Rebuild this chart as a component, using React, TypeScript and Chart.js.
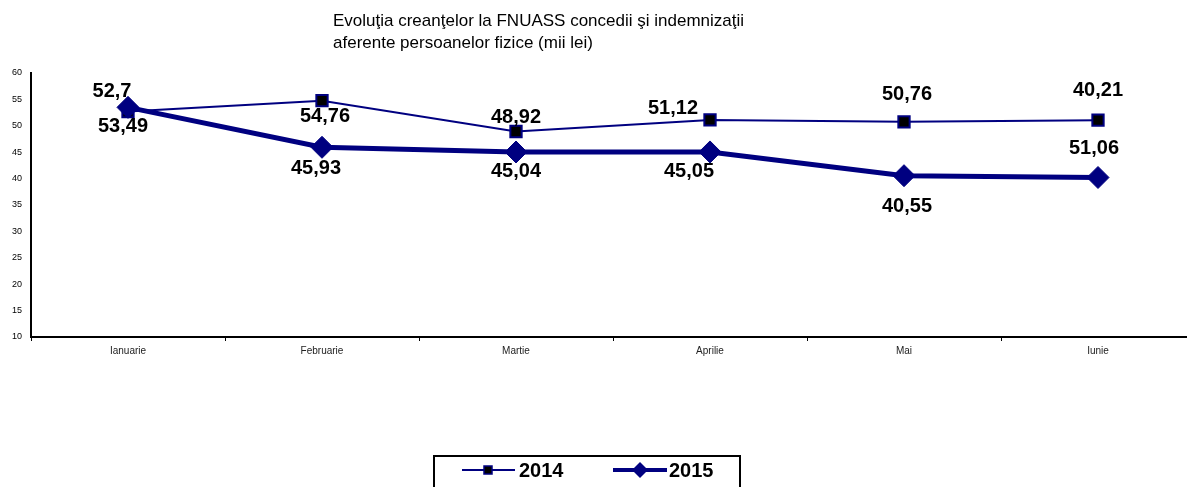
import { useEffect, useRef } from 'react';
import { Chart, registerables } from 'chart.js';

Chart.register(...registerables);

const categories = ['Ianuarie', 'Februarie', 'Martie', 'Aprilie', 'Mai', 'Iunie'];
const values2014 = [52.7, 54.76, 48.92, 51.12, 50.76, 51.06];
const values2015 = [53.49, 45.93, 45.04, 45.05, 40.55, 40.21];
const seriesLabels = ['2014', '2015'];
const yMin = 10;
const yMax = 60;
const yStep = 5;
const titleLines = [
  'Evoluţia creanţelor la FNUASS concedii şi indemnizaţii',
  'aferente persoanelor fizice (mii lei)',
];

// placement of each value label, in px relative to its point (as in the original)
const labelOffsets2014 = [[-16, -20], [3, 16], [0, -14], [-37, -11], [3, -27], [-4, 28]];
const labelOffsets2015 = [[-5, 19], [-6, 21], [0, 19], [-21, 20], [3, 31], [0, -87]];

const NAVY = '#000080';
const FONT = '"Liberation Sans", Arial, Helvetica, sans-serif';

const fmt = (v: number) => String(v).replace('.', ',');

const overlayPlugin = {
  id: 'overlay',
  afterDatasetsDraw(chart: any) {
    const ctx = chart.ctx;
    const offsets = [labelOffsets2014, labelOffsets2015];
    ctx.save();
    ctx.font = `bold 20px ${FONT}`;
    ctx.fillStyle = '#000';
    ctx.textAlign = 'center';
    ctx.textBaseline = 'middle';
    chart.data.datasets.forEach((ds: any, di: number) => {
      const meta = chart.getDatasetMeta(di);
      meta.data.forEach((pt: any, i: number) => {
        const o = offsets[di][i];
        ctx.fillText(fmt(ds.data[i]), pt.x + o[0], pt.y + o[1]);
      });
    });
    ctx.restore();
  },
  afterDraw(chart: any) {
    const ctx = chart.ctx;
    ctx.save();
    // title
    ctx.font = `17px ${FONT}`;
    ctx.fillStyle = '#000';
    ctx.textAlign = 'left';
    ctx.textBaseline = 'middle';
    ctx.fillText(titleLines[0], 333, 21);
    ctx.fillText(titleLines[1], 333, 43);

    // legend box
    ctx.strokeStyle = '#000';
    ctx.lineWidth = 2;
    ctx.strokeRect(434, 456, 306, 40);

    const ly = 470;
    // 2014
    ctx.strokeStyle = NAVY;
    ctx.lineWidth = 2;
    ctx.beginPath();
    ctx.moveTo(462, ly);
    ctx.lineTo(515, ly);
    ctx.stroke();
    ctx.fillStyle = '#000';
    ctx.fillRect(484, ly - 4, 8, 8);
    ctx.lineWidth = 1.5;
    ctx.strokeRect(484, ly - 4, 8, 8);
    // 2015
    ctx.lineWidth = 4;
    ctx.beginPath();
    ctx.moveTo(613, ly);
    ctx.lineTo(667, ly);
    ctx.stroke();
    ctx.fillStyle = NAVY;
    ctx.beginPath();
    ctx.moveTo(640, ly - 8);
    ctx.lineTo(648, ly);
    ctx.lineTo(640, ly + 8);
    ctx.lineTo(632, ly);
    ctx.closePath();
    ctx.fill();

    ctx.fillStyle = '#000';
    ctx.font = `bold 20px ${FONT}`;
    ctx.fillText(seriesLabels[0], 519, ly + 1);
    ctx.fillText(seriesLabels[1], 669, ly + 1);
    ctx.restore();
  },
};

export default function App() {
  const ref = useRef<HTMLCanvasElement>(null);

  useEffect(() => {
    if (!ref.current) return;
    const chart = new Chart(ref.current, {
      type: 'line',
      data: {
        labels: categories,
        datasets: [
          {
            label: seriesLabels[0],
            data: values2014,
            borderColor: NAVY,
            borderWidth: 2,
            pointStyle: 'rect',
            pointRadius: 8,
            pointBackgroundColor: '#000',
            pointBorderColor: NAVY,
            pointBorderWidth: 2,
            tension: 0,
            order: 1,
          },
          {
            label: seriesLabels[1],
            data: values2015,
            borderColor: NAVY,
            borderWidth: 5,
            pointStyle: 'rectRot',
            pointRadius: 11,
            pointBackgroundColor: NAVY,
            pointBorderColor: NAVY,
            pointBorderWidth: 1,
            tension: 0,
            order: 0,
          },
        ],
      },
      options: {
        responsive: false,
        animation: false,
        devicePixelRatio: 1,
        layout: { padding: { top: 73, right: 4, left: 0, bottom: 0 } },
        plugins: {
          legend: { display: false },
          title: { display: false },
          tooltip: { enabled: false },
        },
        scales: {
          x: {
            type: 'category',
            offset: true,
            grid: {
              offset: true,
              drawOnChartArea: false,
              drawTicks: true,
              tickLength: 4,
              color: '#000',
              lineWidth: 1,
            },
            border: { display: true, color: '#000', width: 2 },
            ticks: {
              color: '#222',
              font: { family: FONT, size: 10 },
              padding: 4,
              maxRotation: 0,
              autoSkip: false,
            },
            afterFit: (scale: any) => {
              scale.height = 150;
            },
          },
          y: {
            min: yMin,
            max: yMax,
            grid: { display: false, drawTicks: false },
            border: { display: true, color: '#000', width: 2 },
            ticks: {
              stepSize: yStep,
              color: '#000',
              font: { family: FONT, size: 9 },
              padding: 9,
            },
            afterFit: (scale: any) => {
              scale.width = 31;
            },
          },
        },
      },
      plugins: [overlayPlugin],
    });
    return () => chart.destroy();
  }, []);

  return (
    <div
      style={{
        position: 'absolute',
        left: 0,
        top: 0,
        width: 1187,
        height: 487,
        overflow: 'hidden',
        background: '#fff',
      }}
    >
      <canvas ref={ref} width={1207} height={487} style={{ display: 'block' }} />
    </div>
  );
}
